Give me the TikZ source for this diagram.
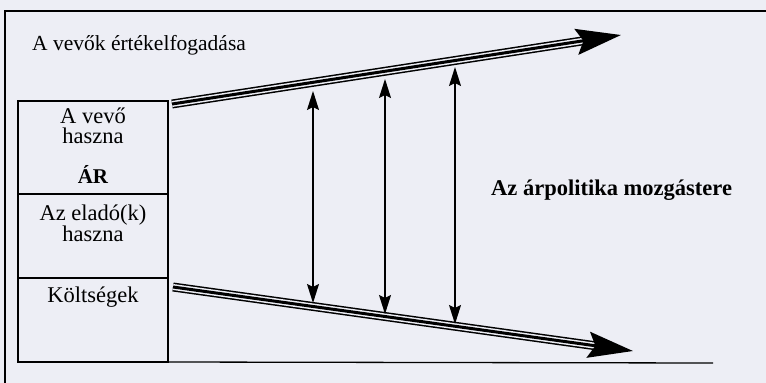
\documentclass[tikz,border=0pt]{standalone}
\usepackage{fontspec}
\setmainfont{Liberation Serif}
\usetikzlibrary{arrows.meta,calc}
\definecolor{paper}{RGB}{237,238,245}
\begin{document}
\begin{tikzpicture}[x=1pt,y=-1pt,
  thinline/.style={line width=1.3pt, draw=black},
  cell/.style={thinline, rectangle, minimum width=150pt, inner sep=0pt, outer sep=0pt},
  lbl/.style={inner sep=0pt, anchor=base, font=\fontsize{22.5}{18.5}\selectfont},
  twoline/.style={inner sep=0pt, anchor=south, align=center, font=\fontsize{22.5}{20}\selectfont},
  blbl/.style={inner sep=0pt, anchor=base, font=\fontsize{22.5}{20}\selectfont\bfseries},
  vert/.style={line width=1.3pt, {Stealth[length=19pt,width=12pt,inset=3pt]}-{Stealth[length=19pt,width=12pt,inset=3pt]}},
  outerband/.style={line width=9pt, shorten >=38pt},
  gapband/.style={draw=paper, line width=6pt, shorten >=38pt},
  coreband/.style={line width=3pt, -{Stealth[length=45pt,width=26pt,inset=7pt]}}
]
\useasboundingbox[fill=paper] (0,0) rectangle (766,383);

% outer frame
\coordinate (ftl) at (5,11);
\coordinate (ftr) at (766,11);
\coordinate (fbl) at (5,383);
\coordinate (fbr) at (713,363);
\draw[thinline] (ftr) -- (ftl) -- (fbl);

% stacked box
\node[cell, minimum height=93pt] (c1) at (93,147.5) {};
\node[cell, minimum height=84pt] (c2) at (93,236) {};
\node[cell, minimum height=84pt] (c3) at (93,320) {};
\draw[thinline] (c3.south east) -- (fbr);

% texts
\node[lbl, anchor=base west, font=\fontsize{21.5}{20}\selectfont] (title) at (32,50) {A vevők értékelfogadása};
\node[twoline] (v) at (93,144) {A vevő\\haszna};
\node[blbl, font=\fontsize{21}{20}\selectfont\bfseries] (ar) at (93,183) {ÁR};
\node[twoline] (e) at (93,242) {Az eladó(k)\\haszna};
\node[lbl] (k) at (93,302) {Költségek};
\node[blbl, anchor=base west] (mz) at (491,195) {Az árpolitika mozgástere};

% triple-line arrows
\coordinate (us) at (172,104);
\coordinate (ut) at (621,35);
\coordinate (ls) at (173,287);
\coordinate (lt) at (633,351);
\draw[outerband] (us) -- (ut);
\draw[gapband] (us) -- (ut);
\draw[coreband] (us) -- (ut);
\draw[outerband] (ls) -- (lt);
\draw[gapband] (ls) -- (lt);
\draw[coreband] (ls) -- (lt);

% vertical double arrows
\coordinate (a1t) at (313,91);
\coordinate (a1b) at (313,303);
\coordinate (a2t) at (385,79);
\coordinate (a2b) at (385,314);
\coordinate (a3t) at (455,67);
\coordinate (a3b) at (455,324);
\draw[vert] (a1t) -- (a1b);
\draw[vert] (a2t) -- (a2b);
\draw[vert] (a3t) -- (a3b);
\end{tikzpicture}
\end{document}
